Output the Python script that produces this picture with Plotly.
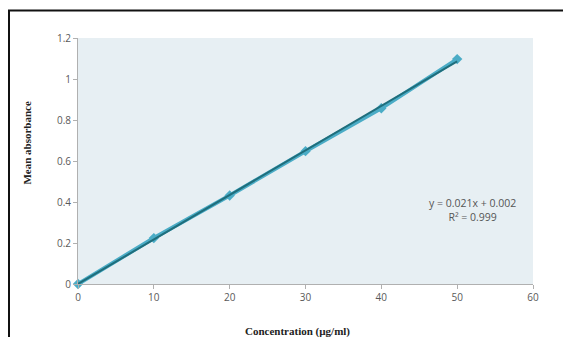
import numpy as np
import plotly.graph_objects as go

concentration = [0, 10, 20, 30, 40, 50]
absorbance = [0.0, 0.224, 0.432, 0.648, 0.857, 1.097]
x_ticks = [0, 10, 20, 30, 40, 50, 60]
y_ticks = [0, 0.2, 0.4, 0.6, 0.8, 1, 1.2]
y_tick_text = ["0", "0.2", "0.4", "0.6", "0.8", "1", "1.2"]

slope, intercept = np.polyfit(concentration, absorbance, 1)
trend_x = [concentration[0], concentration[-1]]
trend_y = [slope * v + intercept for v in trend_x]

fig = go.Figure()
fig.add_trace(go.Scatter(
    x=concentration, y=absorbance, mode="lines+markers",
    line=dict(color="#4bacc6", width=4),
    marker=dict(symbol="diamond", size=8, color="#4bacc6"),
    showlegend=False, cliponaxis=False,
))
fig.add_trace(go.Scatter(
    x=trend_x, y=trend_y, mode="lines",
    line=dict(color="#1f6e7c", width=2),
    showlegend=False, cliponaxis=False,
))

tick_font = dict(family="Open Sans, Liberation Sans, sans-serif", size=10, color="#595959")
fig.update_xaxes(
    range=[0, 60], tickvals=x_ticks, showline=True, linecolor="#b0b0b0", linewidth=1,
    ticks="outside", ticklen=4, tickcolor="#b0b0b0", showgrid=False, zeroline=False,
    tickfont=tick_font,
)
fig.update_yaxes(
    range=[0, 1.2], tickvals=y_ticks, ticktext=y_tick_text, showline=True,
    linecolor="#b0b0b0", linewidth=1, ticks="outside", ticklen=4, tickcolor="#b0b0b0",
    showgrid=False, zeroline=False, tickfont=tick_font,
)

title_font = dict(family="Liberation Serif, Times New Roman, serif", size=11, color="#222222")
fig.add_annotation(text="<b>Concentration (µg/ml)</b>", xref="paper", yref="paper",
                   x=0.4835, y=-0.195, xanchor="center", yanchor="middle", showarrow=False,
                   font=title_font)
fig.add_annotation(text="<b>Mean absorbance</b>", xref="paper", yref="paper",
                   x=-0.112, y=0.575, xanchor="center", yanchor="middle", textangle=-90,
                   showarrow=False, font=title_font)
fig.add_annotation(text="y = 0.021x + 0.002<br>R² = 0.999", xref="x", yref="y",
                   x=51.96, y=0.361, xanchor="center", yanchor="middle", showarrow=False,
                   align="center",
                   font=dict(family="Open Sans, Liberation Sans, sans-serif", size=10.5, color="#555555"))

fig.add_shape(type="rect", xref="paper", yref="paper",
              x0=(1 - 70) / 455, y0=1 + (30 - 2.5) / 246, x1=1 + 60 / 455, y1=-80 / 246,
              line=dict(color="#111111", width=2), fillcolor="rgba(0,0,0,0)", layer="below")
fig.add_shape(type="line", xref="paper", yref="paper",
              x0=1 + 35 / 455, x1=1 + 35 / 455, y0=1 + (30 - 4) / 246, y1=-80 / 246,
              line=dict(color="#ececec", width=1), layer="below")

fig.update_layout(
    width=571, height=337, margin=dict(l=70, r=46, t=30, b=61),
    paper_bgcolor="white", plot_bgcolor="#e7eff3",
)
fig.write_html("out.html")
